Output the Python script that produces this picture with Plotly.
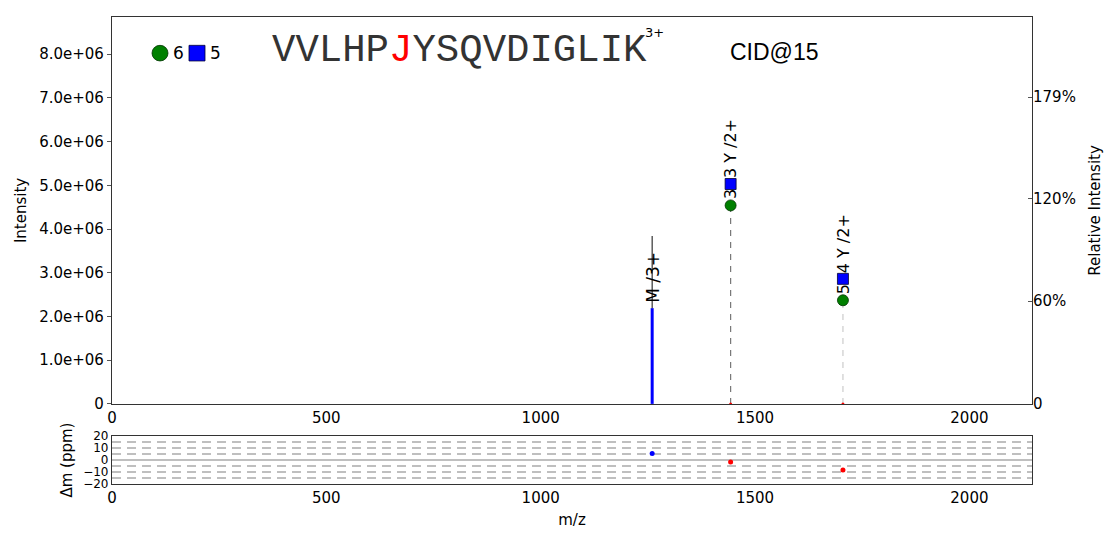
import plotly.graph_objects as go

# ---------------- data ----------------
x_ticks = [0, 500, 1000, 1500, 2000]
y_ticks = [0, 1e6, 2e6, 3e6, 4e6, 5e6, 6e6, 7e6, 8e6]
rel_base = 3.92e6
rel_ticks_pct = [0, 60, 120, 179]

precursor_mz = 1260
precursor_matched = 2.19e6
precursor_total = 3.84e6
precursor_label = "M /3+"

frag_mz = [1443, 1705]
frag_circle_int = [4.54e6, 2.37e6]
frag_square_int = [5.03e6, 2.86e6]
frag_circle_lbl = ["3", "5"]
frag_square_lbl = ["3 Y /2+", "4 Y /2+"]
frag_line_color = ["#777777", "#cccccc"]

ppm_mz = [1260, 1443, 1705]
ppm_err = [5.5, -1.6, -8.2]
ppm_color = ["blue", "red", "red"]
ppm_grid = [-15, -10, -5, 5, 10, 15]

legend_circle_count = 6
legend_square_count = 5
sequence_pre = "VVLHP"
sequence_mod = "J"
sequence_post = "YSQVDIGLIK"
charge = "3+"
method = "CID@15"

x_max = 2146
y_max = 8.85e6

FONT = "DejaVu Sans"
GREEN = "#008000"
BLUE = "#0000ff"

fig = go.Figure()

# precursor peak: blue matched part + black rest
fig.add_trace(go.Scatter(x=[precursor_mz, precursor_mz], y=[0, precursor_matched],
                         mode="lines", line=dict(color=BLUE, width=3),
                         xaxis="x", yaxis="y", showlegend=False, hoverinfo="skip"))
fig.add_trace(go.Scatter(x=[precursor_mz, precursor_mz], y=[precursor_matched, precursor_total],
                         mode="lines", line=dict(color="#333333", width=1.2),
                         xaxis="x", yaxis="y", showlegend=False, hoverinfo="skip"))

# fragment dashed lines
for mz, ci, col in zip(frag_mz, frag_circle_int, frag_line_color):
    fig.add_trace(go.Scatter(x=[mz, mz], y=[0, ci], mode="lines",
                             line=dict(color=col, width=1.2, dash="6px,6px"),
                             xaxis="x", yaxis="y", showlegend=False, hoverinfo="skip"))
# tiny red base marks
fig.add_trace(go.Scatter(x=frag_mz, y=[0] * len(frag_mz), mode="markers",
                         marker=dict(color="red", size=3),
                         xaxis="x", yaxis="y", showlegend=False, hoverinfo="skip"))
# circles and squares
fig.add_trace(go.Scatter(x=frag_mz, y=frag_circle_int, mode="markers",
                         marker=dict(symbol="circle", color=GREEN, size=11,
                                     line=dict(color="#003300", width=0.8)),
                         xaxis="x", yaxis="y", showlegend=False, hoverinfo="skip"))
fig.add_trace(go.Scatter(x=frag_mz, y=frag_square_int, mode="markers",
                         marker=dict(symbol="square", color=BLUE, size=11,
                                     line=dict(color="#000033", width=0.8)),
                         xaxis="x", yaxis="y", showlegend=False, hoverinfo="skip"))

# invisible trace for right axis
fig.add_trace(go.Scatter(x=[0], y=[0], mode="markers", marker=dict(opacity=0),
                         xaxis="x", yaxis="y2", showlegend=False, hoverinfo="skip"))

# ppm panel
for g in ppm_grid:
    fig.add_trace(go.Scatter(x=[0, x_max], y=[g, g], mode="lines",
                             line=dict(color="#aaaaaa", width=1.5, dash="9px,6px"),
                             xaxis="x2", yaxis="y3", showlegend=False, hoverinfo="skip"))
fig.add_trace(go.Scatter(x=[0, x_max], y=[0, 0], mode="lines",
                         line=dict(color="#aaaaaa", width=1.5),
                         xaxis="x2", yaxis="y3", showlegend=False, hoverinfo="skip"))
fig.add_trace(go.Scatter(x=ppm_mz, y=ppm_err, mode="markers",
                         marker=dict(color=ppm_color, size=5),
                         xaxis="x2", yaxis="y3", showlegend=False, hoverinfo="skip"))

annotations = []
# precursor label
annotations.append(dict(x=precursor_mz, y=precursor_matched, xref="x", yref="y",
                        text=precursor_label, textangle=-90, showarrow=False,
                        xanchor="center", yanchor="bottom", yshift=3,
                        font=dict(family=FONT, size=17, color="black")))
for mz, ci, si, cl, sl in zip(frag_mz, frag_circle_int, frag_square_int,
                              frag_circle_lbl, frag_square_lbl):
    annotations.append(dict(x=mz, y=ci, xref="x", yref="y", text=cl, textangle=-90,
                            showarrow=False, xanchor="center", yanchor="bottom", yshift=4,
                            font=dict(family=FONT, size=16, color="black")))
    annotations.append(dict(x=mz, y=si, xref="x", yref="y", text=sl, textangle=-90,
                            showarrow=False, xanchor="center", yanchor="bottom", yshift=4,
                            font=dict(family=FONT, size=16, color="black")))

cy = (488 - 47) / 478
# legend-like counts
annotations.append(dict(x=(178 - 112) / 920, y=cy, xref="paper", yref="paper",
                        text=str(legend_circle_count), showarrow=False, xanchor="center", yanchor="middle",
                        font=dict(family=FONT, size=17, color="black")))
annotations.append(dict(x=(215 - 112) / 920, y=cy, xref="paper", yref="paper",
                        text=str(legend_square_count), showarrow=False, xanchor="center", yanchor="middle",
                        font=dict(family=FONT, size=17, color="black")))
# sequence
annotations.append(dict(x=(270 - 112) / 920, y=(488 - 45) / 478, xref="paper", yref="paper",
                        text=sequence_pre + "<span style='color:red'>" + sequence_mod + "</span>" + sequence_post,
                        showarrow=False, xanchor="left", yanchor="middle",
                        font=dict(family="Courier New, Liberation Mono, monospace", size=39, color="#333333")))
annotations.append(dict(x=(643 - 112) / 920, y=(488 - 26) / 478, xref="paper", yref="paper",
                        text=charge, showarrow=False, xanchor="left", yanchor="middle",
                        font=dict(family=FONT, size=13, color="black")))
annotations.append(dict(x=(728 - 112) / 920, y=(488 - 46) / 478, xref="paper", yref="paper",
                        text=method, showarrow=False, xanchor="left", yanchor="middle",
                        font=dict(family="Liberation Sans", size=23, color="black")))

shapes = []
# legend circle & square (paper px)
shapes.append(dict(type="circle", xref="paper", yref="paper",
                   x0=(152 - 112) / 920, x1=(168 - 112) / 920,
                   y0=cy - 8 / 478, y1=cy + 8 / 478,
                   fillcolor=GREEN, line=dict(color="#003300", width=0.8)))
shapes.append(dict(type="rect", xref="paper", yref="paper",
                   x0=(189 - 112) / 920, x1=(205 - 112) / 920,
                   y0=cy - 8 / 478, y1=cy + 8 / 478,
                   fillcolor=BLUE, line=dict(color="#000033", width=0.8)))

axis_common = dict(showgrid=False, zeroline=False, showline=True, linecolor="#333333",
                   linewidth=1.2, mirror=True)

fig.update_layout(
    width=1111, height=536,
    margin=dict(l=112, r=79, t=10, b=48),
    paper_bgcolor="white", plot_bgcolor="white",
    font=dict(family=FONT, size=15, color="black"),
    xaxis=dict(domain=[0, 1], range=[0, x_max], tickvals=x_ticks,
               ticktext=[str(v) for v in x_ticks], anchor="y", ticks="",
               tickfont=dict(size=15), **axis_common),
    yaxis=dict(domain=[(488 - 406) / 478, 1], range=[0, y_max], tickvals=y_ticks,
               ticktext=["0" if v == 0 else f"{v:.1e}" for v in y_ticks],
               ticks="outside", ticklen=4, tickcolor="#555555",
               title=dict(text="Intensity", font=dict(size=15), standoff=8),
               tickfont=dict(size=15), **axis_common),
    yaxis2=dict(overlaying="y", side="right", range=[0, y_max],
                tickvals=[p / 100 * rel_base for p in rel_ticks_pct],
                ticktext=["0" if p == 0 else f"{p}%" for p in rel_ticks_pct],
                ticks="inside", ticklen=4, tickcolor="#555555",
                showgrid=False, zeroline=False, showline=False, anchor="x",
                title=dict(text="Relative Intensity", font=dict(size=15), standoff=14),
                tickfont=dict(size=15)),
    xaxis2=dict(domain=[0, 1], range=[0, x_max], tickvals=x_ticks,
                ticktext=[str(v) for v in x_ticks], anchor="y3", ticks="",
                title=dict(text="m/z", font=dict(size=15), standoff=8),
                tickfont=dict(size=15), **axis_common),
    yaxis3=dict(domain=[0, (488 - 439) / 478], range=[-20, 20], tickvals=[-20, -10, 0, 10, 20],
                ticktext=["\u221220", "\u221210", "0", "10", "20"], anchor="x2",
                ticks="", tickfont=dict(size=12),
                title=dict(text="\u0394m (ppm)", font=dict(size=15), standoff=6),
                **axis_common),
    annotations=annotations,
    shapes=shapes,
)

fig.write_html("out.html")
